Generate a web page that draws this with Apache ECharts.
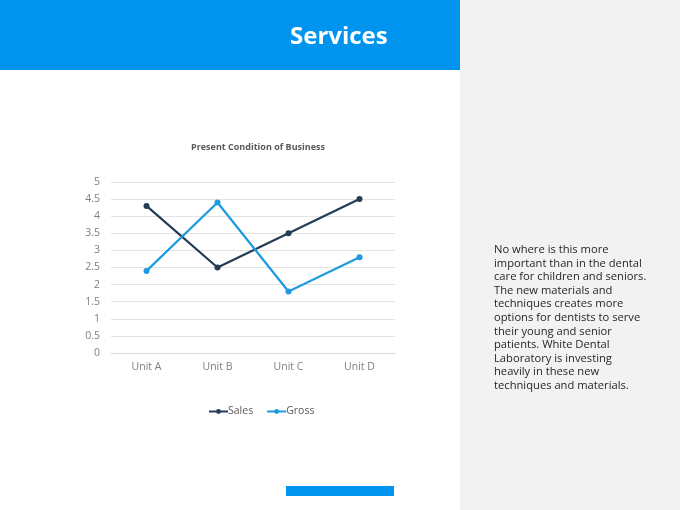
<!DOCTYPE html>
<html>
<head>
<meta charset="utf-8">
<script src="https://cdn.jsdelivr.net/npm/echarts@6/dist/echarts.min.js"></script>
<style>
  html, body { margin: 0; padding: 0; background: #fff; }
  #chart { width: 680px; height: 510px; }
</style>
</head>
<body>
<div id="chart"></div>
<script>
var categories = ['Unit A', 'Unit B', 'Unit C', 'Unit D'];
var sales = [4.3, 2.5, 3.5, 4.5];
var gross = [2.4, 4.4, 1.8, 2.8];
var yMin = 0, yMax = 5, yStep = 0.5;

var pageTitle = 'Services';
var chartTitle = 'Present Condition of Business';
var paragraph = [
    'No where is this more',
    'important than in the dental',
    'care for children and seniors.',
    'The new materials and',
    'techniques creates more',
    'options for dentists to serve',
    'their young and senior',
    'patients. White Dental',
    'Laboratory is investing',
    'heavily in these new',
    'techniques and materials.'
];

var font = '"Open Sans", "Noto Sans", sans-serif';

var chart = echarts.init(document.getElementById('chart'));

var option = {
    animation: false,
    textStyle: { fontFamily: font },
    title: {
        text: chartTitle,
        left: 253,
        top: 138,
        textAlign: 'center',
        textStyle: { fontSize: 9, fontWeight: 'bold', color: '#595959', fontFamily: font }
    },
    legend: {
        top: 401,
        left: 203,
        itemWidth: 19,
        itemHeight: 6,
        itemGap: 13,
        textStyle: { fontSize: 10.5, color: '#595959', padding: [0, 0, 0, -5] },
        data: ['Sales', 'Gross']
    },
    grid: { left: 111, right: 285, top: 182, bottom: 157 },
    xAxis: {
        type: 'category',
        data: categories,
        axisLine: { lineStyle: { color: '#d9d9d9' } },
        axisTick: { show: false },
        axisLabel: { color: '#7f7f7f', fontSize: 10.5, margin: 9 }
    },
    yAxis: {
        type: 'value',
        min: yMin,
        max: yMax,
        interval: yStep,
        axisLine: { show: false },
        axisTick: { show: false },
        splitLine: { lineStyle: { color: '#e3e3e3' } },
        axisLabel: { color: '#7f7f7f', fontSize: 10.5, margin: 11 }
    },
    series: [
        {
            name: 'Sales',
            type: 'line',
            data: sales,
            symbol: 'circle',
            symbolSize: 6,
            lineStyle: { width: 2.25, color: '#253c56' },
            itemStyle: { color: '#253c56' }
        },
        {
            name: 'Gross',
            type: 'line',
            data: gross,
            symbol: 'circle',
            symbolSize: 6,
            lineStyle: { width: 2.25, color: '#1e9be0' },
            itemStyle: { color: '#1e9be0' }
        }
    ],
    graphic: [
        { type: 'rect', z: -10, shape: { x: 0, y: 0, width: 460, height: 70 }, style: { fill: '#0094ee' } },
        { type: 'rect', z: -10, shape: { x: 460, y: 0, width: 220, height: 510 }, style: { fill: '#f2f2f2' } },
        { type: 'rect', z: -10, shape: { x: 286, y: 486, width: 108, height: 10 }, style: { fill: '#0094ee' } },
        {
            type: 'text', left: 290, top: 25,
            style: { text: pageTitle, fill: '#fff', font: 'bold 24px ' + font }
        },
        {
            type: 'text', left: 494, top: 243,
            style: { text: paragraph.join('\n'), fill: '#262626', font: '11.2px ' + font, lineHeight: 13.6 }
        }
    ]
};

chart.setOption(option);
</script>
</body>
</html>
